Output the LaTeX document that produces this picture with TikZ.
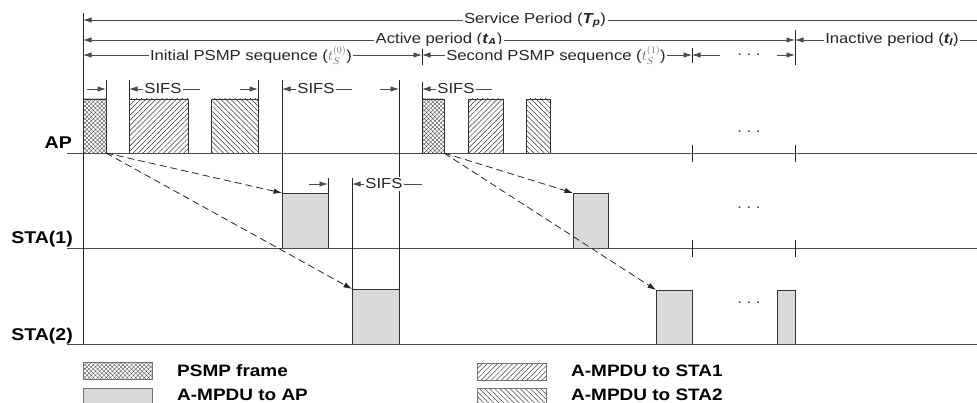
\documentclass[tikz,border=0pt]{standalone}
\usepackage{fontspec}
\setmainfont{Liberation Sans}[FakeStretch=1.15]
\usetikzlibrary{arrows.meta,patterns.meta}
\definecolor{boxgray}{gray}{0.85}
\definecolor{linegray}{gray}{0.3}
\tikzset{
  >={Latex[length=8.5pt,width=5.5pt]},
  tline/.style={draw=linegray, line width=0.8pt},
  vline/.style={draw=black!85, line width=0.8pt},
  dim/.style={draw=linegray, line width=0.8pt},
  box/.style={draw=black!80, line width=0.8pt, inner sep=0pt, outer sep=0pt, anchor=north west},
  psmpbox/.style={box, pattern={Hatch[angle=45,distance=3pt,line width=0.35pt]}, pattern color=black!75},
  staonebox/.style={box, pattern={Lines[angle=45,distance=3.6pt,line width=0.5pt]}, pattern color=black!80},
  statwobox/.style={box, pattern={Lines[angle=-45,distance=3.6pt,line width=0.5pt]}, pattern color=black!80},
  upbox/.style={box, fill=boxgray},
  legbox/.style={box, draw=black!55, minimum width=69pt, minimum height=17pt},
  lbl/.style={font=\fontsize{14.5}{16}\selectfont, inner sep=1.5pt, fill=white, text=black!85},
  dots/.style={font=\fontsize{14.5}{16}\selectfont, inner sep=0pt, text=black!80},
  rowlbl/.style={font=\bfseries\fontsize{17}{19}\selectfont, anchor=east, inner sep=0pt},
  leglbl/.style={font=\bfseries\fontsize{16.5}{18}\selectfont, anchor=west, inner sep=0pt},
  darrow/.style={draw=black!85, dash pattern=on 7pt off 4pt, line width=0.8pt, ->},
}
\newcommand{\bit}[1]{\textbf{\textit{#1}}}
\begin{document}
\begin{tikzpicture}[x=1pt,y=-1pt]
\useasboundingbox (0,0) rectangle (977,403);
\clip (0,0) rectangle (977,403);

% ---------- frames on the AP row ----------
\node[psmpbox, minimum width=23pt, minimum height=54pt] (p1) at (83,99) {};
\node[staonebox, minimum width=59pt, minimum height=54pt] (s1) at (129,99) {};
\node[statwobox, minimum width=47pt, minimum height=54pt] (t1) at (211,99) {};
\node[psmpbox, minimum width=22pt, minimum height=54pt] (p2) at (422,99) {};
\node[staonebox, minimum width=35pt, minimum height=54pt] (s2) at (468,99) {};
\node[statwobox, minimum width=24pt, minimum height=54pt] (t2) at (526,99) {};

% ---------- frames on STA rows ----------
\node[upbox, minimum width=46pt, minimum height=55pt] (a1) at (282,193) {};
\node[upbox, minimum width=35pt, minimum height=55pt] (a2) at (573,193) {};
\node[upbox, minimum width=47pt, minimum height=55pt] (c1) at (352,289) {};
\node[upbox, minimum width=36pt, minimum height=54pt] (c2) at (656,290) {};
\node[upbox, minimum width=18pt, minimum height=54pt] (c3) at (777,290) {};

% ---------- time lines ----------
\coordinate (apL) at (67,153);  \coordinate (apR) at (977,153);
\coordinate (s1L) at (67,248);  \coordinate (s1R) at (977,248);
\coordinate (s2L) at (67,344);  \coordinate (s2R) at (977,344);
\draw[tline] (apL) -- (apR);
\draw[tline] (s1L) -- (s1R);
\draw[tline] (s2L) -- (s2R);
\node[rowlbl] (lap) at (72,143) {AP};
\node[rowlbl] (lsta1) at (73,239) {STA(1)};
\node[rowlbl] (lsta2) at (73,336) {STA(2)};

% ---------- vertical guide lines ----------
\coordinate (v0t) at (83,13);   \coordinate (v0b) at (83,344);
\draw[vline] (v0t) -- (v0b);
\coordinate (v106) at (106,80);  \draw[vline] (v106) -- (p1.north east);
\coordinate (v129) at (129,80);  \draw[vline] (v129) -- (s1.north west);
\coordinate (v258) at (258,80);  \draw[vline] (v258) -- (t1.north east);
\coordinate (v282) at (282,80);  \draw[vline] (v282) -- (a1.north west);
\coordinate (v328) at (328,178); \draw[vline] (v328) -- (a1.north east);
\coordinate (v352) at (352,178); \draw[vline] (v352) -- (c1.north west);
\coordinate (v399) at (399,80);  \draw[vline] (v399) -- (c1.north east);
\coordinate (v422) at (422,82);  \draw[vline] (v422) -- (p2.north west);
\coordinate (k422t) at (422,49); \coordinate (k422b) at (422,65);
\draw[vline] (k422t) -- (k422b);
\coordinate (k692t) at (692,48); \coordinate (k692b) at (692,63);
\draw[vline] (k692t) -- (k692b);
\coordinate (k795t) at (795,30); \coordinate (k795b) at (795,65);
\draw[vline] (k795t) -- (k795b);
\foreach \xx in {692,795}{
  \draw[vline] (\xx,145) -- (\xx,162);
  \draw[vline] (\xx,240) -- (\xx,257);
}

% ---------- period arrows ----------
\coordinate (spA) at (83,20);  \coordinate (spB) at (977,20);
\draw[dim,<-] (spA) -- (spB);
\node[lbl] (spT) at (535,20) {Service Period (\bit{T\textsubscript{p}})};

\coordinate (apA) at (83,40);  \coordinate (apB) at (795,40);
\draw[dim,<->] (apA) -- (apB);
\node[lbl] (apT) at (439,40) {Active period (\bit{t\textsubscript{A}})};

\coordinate (ipA) at (795,40); \coordinate (ipB) at (977,40);
\draw[dim,<-] (ipA) -- (ipB);
\node[lbl] (ipT) at (892,40) {Inactive period (\bit{t\textsubscript{I}})};

\coordinate (q0A) at (83,55);  \coordinate (q0B) at (422,55);
\draw[dim,<->] (q0A) -- (q0B);
\node[lbl] (q0T) at (251,55) {Initial PSMP sequence ({\color{black!60}$t_S^{(0)}$})};

\coordinate (q1A) at (422,55); \coordinate (q1B) at (692,55);
\draw[dim,<->] (q1A) -- (q1B);
\node[lbl] (q1T) at (556,55) {Second PSMP sequence ({\color{black!60}$t_S^{(1)}$})};

\coordinate (q2A) at (692,55); \coordinate (q2B) at (720,55);
\draw[dim,<-] (q2A) -- (q2B);
\node[dots] (q2T) at (749,55) {.\ .\ .};
\coordinate (q2C) at (777,55); \coordinate (q2D) at (795,55);
\draw[dim,->] (q2C) -- (q2D);

% ---------- SIFS markers ----------
\coordinate (f1a) at (87,89);   \coordinate (f1b) at (106,89);  \draw[dim,->] (f1a) -- (f1b);
\coordinate (f2a) at (129,89);  \coordinate (f2b) at (200,89);  \draw[dim,<-] (f2a) -- (f2b);
\node[lbl] (f2t) at (163,89) {SIFS};
\coordinate (f3a) at (240,89);  \coordinate (f3b) at (258,89);  \draw[dim,->] (f3a) -- (f3b);
\coordinate (f4a) at (282,89);  \coordinate (f4b) at (352,89);  \draw[dim,<-] (f4a) -- (f4b);
\node[lbl] (f4t) at (316,89) {SIFS};
\coordinate (f5a) at (380,89);  \coordinate (f5b) at (399,89);  \draw[dim,->] (f5a) -- (f5b);
\coordinate (f6a) at (422,89);  \coordinate (f6b) at (492,89);  \draw[dim,<-] (f6a) -- (f6b);
\node[lbl] (f6t) at (456,89) {SIFS};
\coordinate (f7a) at (309,184); \coordinate (f7b) at (328,184); \draw[dim,->] (f7a) -- (f7b);
\coordinate (f8a) at (352,184); \coordinate (f8b) at (422,184); \draw[dim,<-] (f8a) -- (f8b);
\node[lbl] (f8t) at (384,184) {SIFS};

% ---------- ellipses ----------
\node[dots] (d1) at (749,132) {.\ .\ .};
\node[dots] (d2) at (749,208) {.\ .\ .};
\node[dots] (d3) at (749,303) {.\ .\ .};

% ---------- dashed arrows ----------
\draw[darrow] (p1.south east) -- (a1.north west);
\draw[darrow] (p1.south east) -- (c1.north west);
\draw[darrow] (p2.south east) -- (a2.north west);
\draw[darrow] (p2.south east) -- (c2.north west);

% ---------- legend ----------
\node[legbox, pattern={Hatch[angle=45,distance=3pt,line width=0.35pt]}, pattern color=black!70] (lg1) at (83,362) {};
\node[leglbl] (lt1) at (177,371) {PSMP frame};
\node[legbox, fill=boxgray] (lg2) at (83,388) {};
\node[leglbl] (lt2) at (177,394.5) {A-MPDU to AP};
\node[legbox, pattern={Lines[angle=45,distance=3.6pt,line width=0.5pt]}, pattern color=black!75] (lg3) at (477,363) {};
\node[leglbl] (lt3) at (571,371) {A-MPDU to STA1};
\node[legbox, pattern={Lines[angle=-45,distance=3.6pt,line width=0.5pt]}, pattern color=black!75] (lg4) at (477,388) {};
\node[leglbl] (lt4) at (571,394.5) {A-MPDU to STA2};
\end{tikzpicture}
\end{document}
